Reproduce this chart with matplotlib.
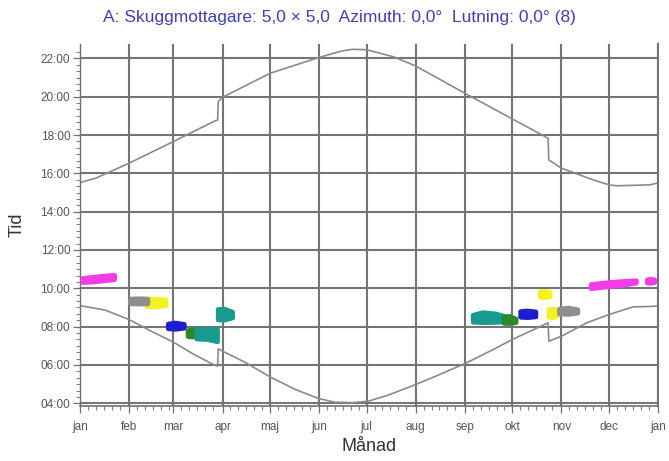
import matplotlib
matplotlib.use("Agg")
import matplotlib.pyplot as plt
from matplotlib.ticker import FixedLocator, FuncFormatter

# month starts (day of year) and labels
month_start = [0, 31, 59, 90, 120, 151, 181, 212, 243, 273, 304, 334, 365]
month_names = ["jan", "feb", "mar", "apr", "maj", "jun", "jul", "aug", "sep", "okt", "nov", "dec", "jan"]

# sunset (upper) and sunrise (lower), local time in hours
sunset_day = [0, 10, 31, 59, 85, 86.9, 87.3, 90, 120, 151, 165, 172, 181, 198, 212, 243, 273, 293.6, 295.6, 296, 304, 324, 334, 339, 360, 365]
sunset_hr = [15.52, 15.75, 16.53, 17.66, 18.73, 18.78, 19.74, 19.97, 21.22, 22.05, 22.38, 22.47, 22.45, 22.08, 21.60, 20.18, 18.84, 17.92, 17.82, 16.70, 16.27, 15.66, 15.40, 15.35, 15.40, 15.50]

sunrise_day = [0, 16, 31, 45, 59, 72, 84, 86.9, 87.3, 90, 104, 120, 136, 151, 161, 172, 182, 194, 212, 227, 244, 261, 273, 295.6, 296, 304, 320, 334, 349, 362, 365]
sunrise_hr = [9.10, 8.86, 8.37, 7.76, 7.19, 6.55, 6.03, 5.94, 6.84, 6.72, 6.15, 5.38, 4.72, 4.24, 4.06, 4.03, 4.11, 4.41, 4.98, 5.50, 6.11, 6.81, 7.33, 8.20, 7.24, 7.50, 8.20, 8.63, 9.03, 9.06, 9.08]

# shadow periods per turbine: colour, days, start time, end time
shadow_color = ["#f23de6", "#f2f21e", "#8e8e8e", "#1c1cd2", "#2a8a2a", "#179a90", "#179a90",
                "#179a90", "#2a8a2a", "#1c1cd2", "#f2f21e", "#f2f21e", "#8e8e8e", "#f23de6", "#f23de6"]
shadow_days = [
    [1.5, 8, 15, 21.5],
    [42, 48, 54],
    [31.5, 37, 42.5],
    [55.5, 60, 65.5],
    [68, 71, 75],
    [73.5, 80, 86.5],
    [87, 91, 96],
    [248, 254, 262, 269.5],
    [267.5, 271, 275],
    [278, 282.5, 287.5],
    [290.5, 293.5, 296.5],
    [296, 299, 301.5],
    [302.5, 308, 314],
    [322.5, 330, 338, 345, 351],
    [358, 360, 362.5],
]
shadow_lo = [
    [10.33, 10.36, 10.42, 10.48],
    [9.08, 9.06, 9.12],
    [9.22, 9.21, 9.22],
    [7.92, 7.89, 7.95],
    [7.51, 7.49, 7.54],
    [7.38, 7.36, 7.24],
    [8.38, 8.37, 8.48],
    [8.26, 8.24, 8.25, 8.28],
    [8.20, 8.19, 8.24],
    [8.52, 8.50, 8.54],
    [9.56, 9.54, 9.59],
    [8.52, 8.50, 8.62],
    [8.69, 8.67, 8.73],
    [10.01, 10.08, 10.15, 10.22, 10.30],
    [10.30, 10.29, 10.33],
]
shadow_hi = [
    [10.54, 10.60, 10.66, 10.70],
    [9.46, 9.46, 9.41],
    [9.46, 9.48, 9.46],
    [8.16, 8.21, 8.14],
    [7.82, 7.86, 7.86],
    [7.88, 7.88, 7.88],
    [8.92, 8.94, 8.78],
    [8.62, 8.75, 8.69, 8.52],
    [8.52, 8.56, 8.42],
    [8.81, 8.84, 8.79],
    [9.84, 9.86, 9.81],
    [8.91, 8.94, 8.86],
    [8.94, 8.99, 8.91],
    [10.22, 10.29, 10.35, 10.39, 10.42],
    [10.47, 10.50, 10.47],
]

title = "A: Skuggmottagare: 5,0 \u00d7 5,0  Azimuth: 0,0\u00b0  Lutning: 0,0\u00b0 (8)"

narrow = ["Liberation Sans Narrow", "Liberation Sans", "DejaVu Sans"]
plt.rcParams["font.family"] = ["Liberation Sans", "DejaVu Sans"]

fig = plt.figure(figsize=(6.69, 4.61), dpi=100, facecolor="white")
ax = fig.add_axes([0.1196, 0.1189, 0.864, 0.7857])

grid_col = "#747474"
ax.set_xlim(0, 365)
ax.set_ylim(3.85, 22.75)

# day/night limits
ax.plot(sunset_day, sunset_hr, color="#8a8a8a", lw=1.2, zorder=2)
ax.plot(sunrise_day, sunrise_hr, color="#8a8a8a", lw=1.2, zorder=2)

# shadow flicker periods
for c, d, lo, hi in zip(shadow_color, shadow_days, shadow_lo, shadow_hi):
    ax.fill_between(d, lo, hi, color=c, edgecolor=c, lw=3.5, joinstyle="round", zorder=3)

# axes and grid
ax.xaxis.set_major_locator(FixedLocator(month_start))
ax.xaxis.set_major_formatter(FuncFormatter(lambda v, p: ""))
minor_days = [m + k for m in month_start[:-1] for k in (5, 10, 15, 20, 25)]
ax.xaxis.set_minor_locator(FixedLocator(minor_days))
for m, name in zip(month_start, month_names):
    ax.text(m, -0.04, name, transform=ax.get_xaxis_transform(), ha="center", va="top",
            fontsize=8.5, color="#555555", family=narrow)

hours = list(range(4, 23, 2))
ax.yaxis.set_major_locator(FixedLocator(hours))
ax.yaxis.set_major_formatter(FuncFormatter(lambda v, p: "%02d:00" % int(v)))
ax.yaxis.set_minor_locator(FixedLocator([h / 3 for h in range(12, 68)]))
for lbl in ax.get_yticklabels():
    lbl.set_family(narrow)

ax.tick_params(which="major", direction="out", length=5, width=0.9, color="#707070",
               labelsize=8.5, labelcolor="#555555", pad=2)
ax.tick_params(which="minor", direction="out", length=3, width=0.8, color="#808080")

ax.grid(True, which="major", color=grid_col, lw=1.5)
ax.set_axisbelow(True)
ax.spines["top"].set_visible(False)
ax.spines["right"].set_color(grid_col)
ax.spines["right"].set_linewidth(1.5)
ax.spines["left"].set_color("#707070")
ax.spines["bottom"].set_color("#707070")
ax.spines["left"].set_linewidth(1.0)
ax.spines["bottom"].set_linewidth(1.2)

ax.set_ylabel("Tid", fontsize=13, color="#333333")
ax.yaxis.set_label_coords(-0.094, 0.5)
ax.set_xlabel("M\u00e5nad", fontsize=13, color="#333333")
ax.xaxis.set_label_coords(0.5, -0.088)

fig.text(0.507, 0.962, title, ha="center", va="center", fontsize=12.5, color="#3f3fb8")

fig.savefig("out.png", dpi=100, facecolor="white")
